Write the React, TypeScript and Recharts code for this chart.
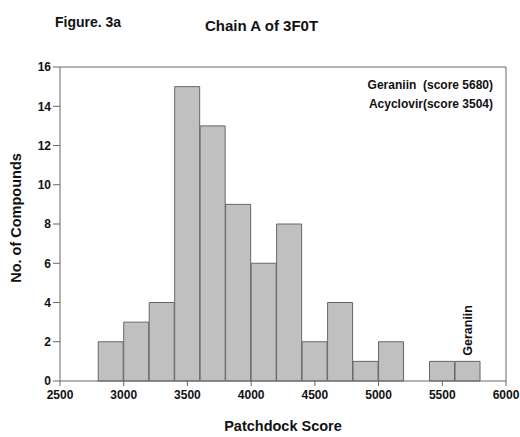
import * as React from "react";
import {
  ComposedChart,
  Bar,
  XAxis,
  YAxis,
  ReferenceLine,
  Label,
  LabelList,
} from "recharts";

const binCenters = [2900, 3100, 3300, 3500, 3700, 3900, 4100, 4300, 4500, 4700, 4900, 5100, 5300, 5500, 5700];
const counts = [2, 3, 4, 15, 13, 9, 6, 8, 2, 4, 1, 2, 0, 1, 1];
const binNotes = ["", "", "", "", "", "", "", "", "", "", "", "", "", "", "Geraniin"];
const xTicks = [2500, 3000, 3500, 4000, 4500, 5000, 5500, 6000];
const yTicks = [0, 2, 4, 6, 8, 10, 12, 14, 16];
const legendLines = ["Geraniin  (score 5680)", "Acyclovir(score 3504)"];

const data = binCenters.map((x, i) => ({ x, count: counts[i], note: binNotes[i] }));

const font = "'Liberation Sans', Arial, sans-serif";
const axisColor = "#666";

function NoteLabel(props: any) {
  const { x, y, width, value } = props;
  if (!value) return null;
  const cx = x + width / 2;
  const cy = y - 31;
  return (
    <text
      x={cx}
      y={cy}
      transform={`rotate(-90 ${cx} ${cy})`}
      textAnchor="middle"
      dominantBaseline="central"
      fontFamily={font}
      fontWeight="bold"
      fontSize={12.5}
      fill="#111"
    >
      {value}
    </text>
  );
}

export default function App() {
  return (
    <div style={{ position: "relative", width: 520, height: 437, background: "#fff" }}>
      <style>{"body{margin:0}"}</style>
      <ComposedChart
        width={520}
        height={437}
        data={data}
        margin={{ top: 67, right: 14, left: 0, bottom: 26 }}
        barCategoryGap={0}
        barGap={0}
      >
        <XAxis
          dataKey="x"
          type="number"
          domain={[2500, 6000]}
          ticks={xTicks}
          stroke={axisColor}
          tickSize={5}
          tickMargin={4}
          height={30}
          tick={{ fill: "#111", fontSize: 12, fontWeight: "bold", fontFamily: font }}
        >
          <Label
            value="Patchdock Score"
            position="bottom"
            offset={10}
            style={{ fill: "#111", fontSize: 14.5, fontWeight: "bold", fontFamily: font }}
          />
        </XAxis>
        <YAxis
          type="number"
          domain={[0, 16]}
          ticks={yTicks}
          width={60}
          stroke={axisColor}
          tickSize={7}
          tick={{ fill: "#111", fontSize: 12, fontWeight: "bold", fontFamily: font }}
        >
          <Label
            value="No. of Compounds"
            angle={-90}
            position="insideLeft"
            offset={16}
            dy={-6}
            style={{ textAnchor: "middle", fill: "#111", fontSize: 14.5, fontWeight: "bold", fontFamily: font }}
          />
        </YAxis>
        <ReferenceLine y={16} stroke={axisColor} />
        <ReferenceLine x={6000} stroke={axisColor} />
        <Bar dataKey="count" fill="#c0c0c0" stroke="#666" strokeWidth={1} isAnimationActive={false}>
          <LabelList dataKey="note" content={NoteLabel} />
        </Bar>
      </ComposedChart>
      <svg
        width={520}
        height={437}
        style={{ position: "absolute", left: 0, top: 0, pointerEvents: "none" }}
      >
        <text x={55} y={27} fontFamily={font} fontWeight="bold" fontSize={14} fill="#111">
          Figure. 3a
        </text>
        <text x={205} y={31} fontFamily={font} fontWeight="bold" fontSize={15} fill="#111">
          Chain A of 3F0T
        </text>
        {legendLines.map((t, i) => (
          <text
            key={t}
            x={493}
            y={89 + i * 19}
            textAnchor="end"
            fontFamily={font}
            fontWeight="bold"
            fontSize={12}
            fill="#111"
            style={{ whiteSpace: "pre" }}
          >
            {t}
          </text>
        ))}
      </svg>
    </div>
  );
}
